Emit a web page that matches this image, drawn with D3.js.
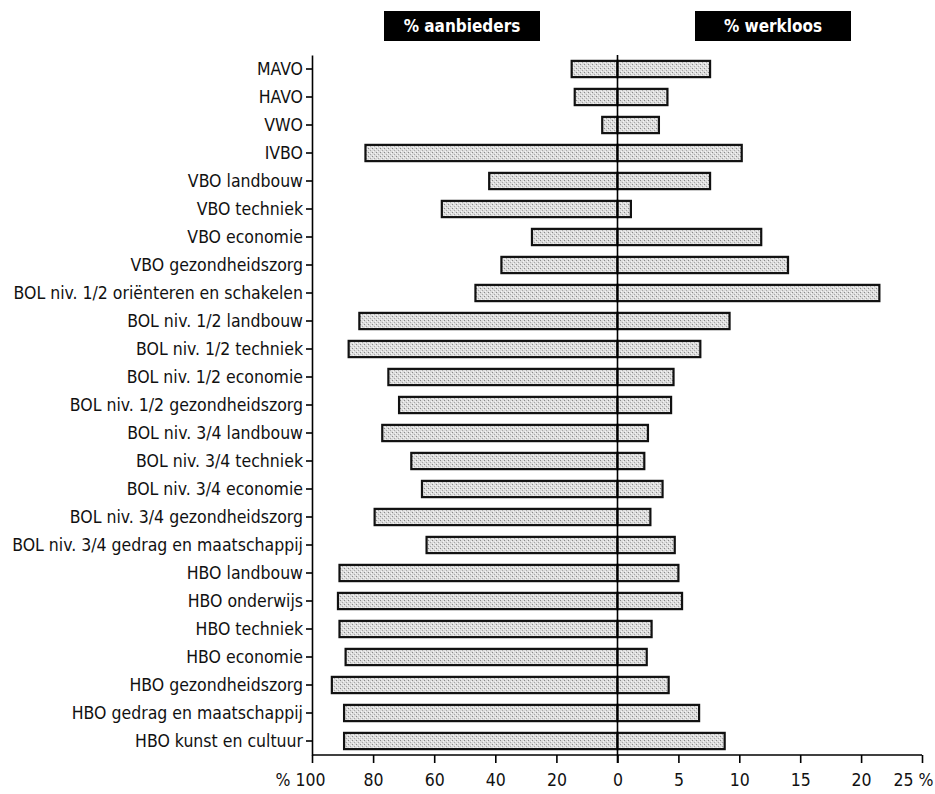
<!DOCTYPE html>
<html>
<head>
<meta charset="utf-8">
<script src="https://cdn.jsdelivr.net/npm/d3@7"></script>
<style>
  html, body { margin: 0; padding: 0; background: #fff; }
  svg text { font-family: "DejaVu Sans Condensed", "Liberation Sans Narrow", "Arial Narrow", sans-serif; }
</style>
</head>
<body>
<svg id="chart" width="935" height="794"></svg>
<script>
const categories = [
  "MAVO", "HAVO", "VWO", "IVBO",
  "VBO landbouw", "VBO techniek", "VBO economie", "VBO gezondheidszorg",
  "BOL niv. 1/2 oriënteren en schakelen", "BOL niv. 1/2 landbouw", "BOL niv. 1/2 techniek",
  "BOL niv. 1/2 economie", "BOL niv. 1/2 gezondheidszorg",
  "BOL niv. 3/4 landbouw", "BOL niv. 3/4 techniek", "BOL niv. 3/4 economie",
  "BOL niv. 3/4 gezondheidszorg", "BOL niv. 3/4 gedrag en maatschappij",
  "HBO landbouw", "HBO onderwijs", "HBO techniek", "HBO economie",
  "HBO gezondheidszorg", "HBO gedrag en maatschappij", "HBO kunst en cultuur"
];
const aanbieders = [15, 14, 5, 82.5, 42, 57.5, 28, 38, 46.5, 84.5, 88, 75, 71.5, 77, 67.5, 64, 79.5, 62.5, 91, 91.5, 91, 89, 93.5, 89.5, 89.5];
const werkloos   = [7.6, 4.1, 3.4, 10.2, 7.6, 1.1, 11.8, 14.0, 21.5, 9.2, 6.8, 4.6, 4.4, 2.5, 2.2, 3.7, 2.7, 4.7, 5.0, 5.3, 2.8, 2.4, 4.2, 6.7, 8.8];
const leftTicks  = [0, 20, 40, 60, 80, 100];
const rightTicks = [0, 5, 10, 15, 20, 25];
const headerLeft = "% aanbieders";
const headerRight = "% werkloos";

const svg = d3.select("#chart");
const cx = 617.5, axisLeftX = 312, axisRightX = 922, plotTop = 55, plotBottom = 755;
const FONT = "'DejaVu Sans Condensed', 'Liberation Sans Narrow', sans-serif";

const xL = d3.scaleLinear().domain([0, 100]).range([cx, axisLeftX]);
const xR = d3.scaleLinear().domain([0, 25]).range([cx, axisRightX]);
const y = d3.scaleBand().domain(categories).range([plotTop, plotBottom]).paddingInner(0.42).paddingOuter(0.21);

// stipple pattern
const defs = svg.append("defs");
const pat = defs.append("pattern").attr("id", "stip").attr("patternUnits", "userSpaceOnUse")
  .attr("width", 4).attr("height", 4);
pat.append("rect").attr("width", 4).attr("height", 4).attr("fill", "#dcdcdc");
pat.append("rect").attr("x", 0).attr("y", 0).attr("width", 1).attr("height", 1).attr("fill", "#8a8a8a");
pat.append("rect").attr("x", 2).attr("y", 2).attr("width", 1).attr("height", 1).attr("fill", "#a8a8a8");
pat.append("rect").attr("x", 3).attr("y", 1).attr("width", 1).attr("height", 1).attr("fill", "#f6f6f6");
pat.append("rect").attr("x", 1).attr("y", 3).attr("width", 1).attr("height", 1).attr("fill", "#f6f6f6");

const data = categories.map((c, i) => ({ c, a: aanbieders[i], w: werkloos[i] }));

// left bars
svg.append("g").selectAll("rect").data(data).join("rect")
  .attr("x", d => xL(d.a)).attr("y", d => y(d.c))
  .attr("width", d => cx - xL(d.a)).attr("height", y.bandwidth())
  .attr("fill", "url(#stip)").attr("stroke", "#111").attr("stroke-width", 2.2);

// right bars
svg.append("g").selectAll("rect").data(data).join("rect")
  .attr("x", cx).attr("y", d => y(d.c))
  .attr("width", d => xR(d.w) - cx).attr("height", y.bandwidth())
  .attr("fill", "url(#stip)").attr("stroke", "#111").attr("stroke-width", 2.2);

// center line
svg.append("line").attr("x1", cx).attr("x2", cx).attr("y1", plotTop).attr("y2", plotBottom + 8)
  .attr("stroke", "#000").attr("stroke-width", 1.6);

// left (category) axis
const gy = svg.append("g").attr("transform", `translate(${axisLeftX},0)`)
  .call(d3.axisLeft(y).tickSize(6).tickPadding(3).tickSizeOuter(0));
gy.select(".domain").attr("stroke", "#000").attr("stroke-width", 1.6);
gy.selectAll(".tick line").attr("stroke", "#000").attr("stroke-width", 1.6);
gy.selectAll(".tick text").attr("font-size", 17.5).attr("fill", "#111").attr("font-family", FONT);

// bottom axes
svg.append("line").attr("x1", axisLeftX).attr("x2", axisRightX).attr("y1", plotBottom).attr("y2", plotBottom)
  .attr("stroke", "#000").attr("stroke-width", 1.6);

function styleX(g) {
  g.select(".domain").remove();
  g.selectAll(".tick line").attr("stroke", "#000").attr("stroke-width", 1.6);
  g.selectAll(".tick text").attr("font-size", 17.5).attr("fill", "#111").attr("font-family", FONT);
}
const gxL = svg.append("g").attr("transform", `translate(0,${plotBottom})`)
  .call(d3.axisBottom(xL).tickValues(leftTicks).tickSize(8).tickPadding(11)
    .tickFormat(d => d === 100 ? "% 100" : d));
styleX(gxL);
gxL.selectAll(".tick text").filter(d => d === 100).attr("text-anchor", "end").attr("dx", 13);

const gxR = svg.append("g").attr("transform", `translate(0,${plotBottom})`)
  .call(d3.axisBottom(xR).tickValues(rightTicks.filter(d => d > 0)).tickSize(8).tickPadding(11)
    .tickFormat(d => d === 25 ? "25 %" : d));
styleX(gxR);
gxR.selectAll(".tick text").filter(d => d === 25).attr("text-anchor", "end").attr("dx", 11);

// headers
const headers = [
  { t: headerLeft, x: 462 },
  { t: headerRight, x: 773 }
];
const hg = svg.append("g").selectAll("g").data(headers).join("g");
hg.append("rect").attr("x", d => d.x - 78).attr("y", 11).attr("width", 156).attr("height", 30).attr("fill", "#000");
hg.append("text").attr("x", d => d.x).attr("y", 32).attr("text-anchor", "middle").attr("font-family", FONT)
  .attr("fill", "#fff").attr("font-size", 17).attr("font-weight", "bold").text(d => d.t);
</script>
</body>
</html>
